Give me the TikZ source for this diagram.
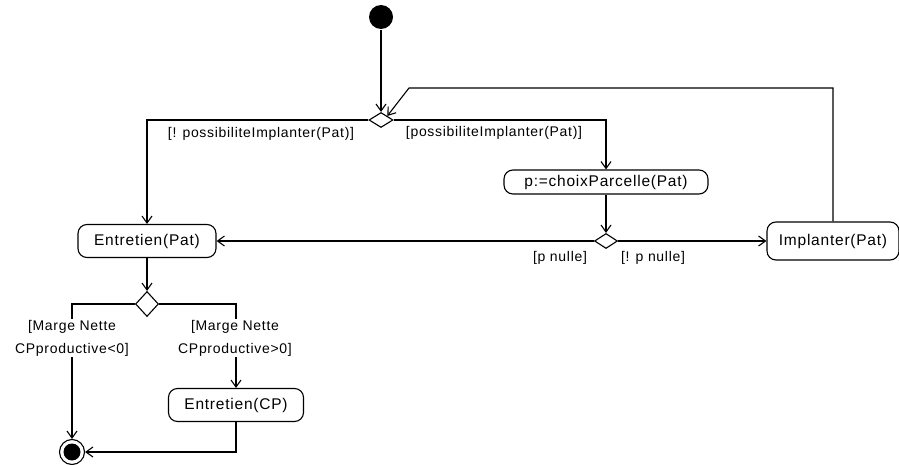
\documentclass[tikz,border=0pt]{standalone}
\usepackage{fontspec}
\setmainfont{Liberation Sans}
\newfontfamily\spacedfont[LetterSpace=5]{Liberation Sans}
\usetikzlibrary{shapes.geometric, arrows.meta}

\begin{document}
\begin{tikzpicture}[x=1pt,y=-1pt,line width=1.1pt,
  >={Straight Barb[length=7pt,width=10pt]},
  activity/.style={draw, rectangle, rounded corners=9pt, minimum height=33pt,
    inner xsep=8pt, font=\spacedfont\fontsize{15.5}{17}\selectfont},
  choice/.style={draw, diamond, fill=white, inner sep=0pt},
  guard/.style={fill=white, inner sep=1pt, align=center,
    font=\spacedfont\fontsize{14}{23}\selectfont}]
\useasboundingbox (0,0) rectangle (899,465);
% start, decisions
\node[circle, fill=black, minimum size=24pt, inner sep=0pt] (init) at (381,17) {};
\node[choice, minimum width=24pt, minimum height=15pt] (d1) at (381,120) {};
\node[choice, minimum width=23pt, minimum height=15pt] (d2) at (606,241) {};
\node[choice, minimum width=23pt, minimum height=25pt] (d3) at (147,304) {};
% activities
\node[activity, minimum width=204pt, minimum height=24pt] (choix) at (606,182) {p:=choixParcelle(Pat)};
\node[activity, minimum width=138pt] (entp) at (147,241) {Entretien(Pat)};
\node[activity, minimum width=132pt, minimum height=38pt] (impl) at (833,241) {Implanter(Pat)};
\node[activity, minimum width=135pt] (encp) at (236,405) {Entretien(CP)};
% end
\node[circle, draw, minimum size=25pt, inner sep=0pt,
  path picture={\fill (path picture bounding box.center) circle (8.5pt);}] (fin) at (72,452) {};
\coordinate (bk) at (409,88);

% flows
\draw[->] (init) -- (d1.north);
\draw[->] (impl.north) |- (bk) -- (d1.north east);
\draw[->] (d1.east) -| (choix.north);
\draw[->] (d1.west) -| (entp.north);
\draw[->] (choix.south) -- (d2.north);
\draw[->] (d2.west) -- (entp.east);
\draw[->] (d2.east) -- (impl.west);
\draw[->] (entp.south) -- (d3.north);
\draw[->] (d3.west) -| (fin.north);
\draw[->] (d3.east) -| (encp.north);
\draw[->] (encp.south) |- (fin.east);

% guards
\node[guard] (g1) at (261,134) {[! possibiliteImplanter(Pat)]};
\node[guard] (g2) at (494,133) {[possibiliteImplanter(Pat)]};
\node[guard] (g3) at (560,258) {[p nulle]};
\node[guard] (g4) at (653,258) {[! p nulle]};
\node[guard] (g5) at (72,338) {[Marge Nette\\CPproductive<0]};
\node[guard] (g6) at (235,338) {[Marge Nette\\CPproductive>0]};
\end{tikzpicture}
\end{document}
